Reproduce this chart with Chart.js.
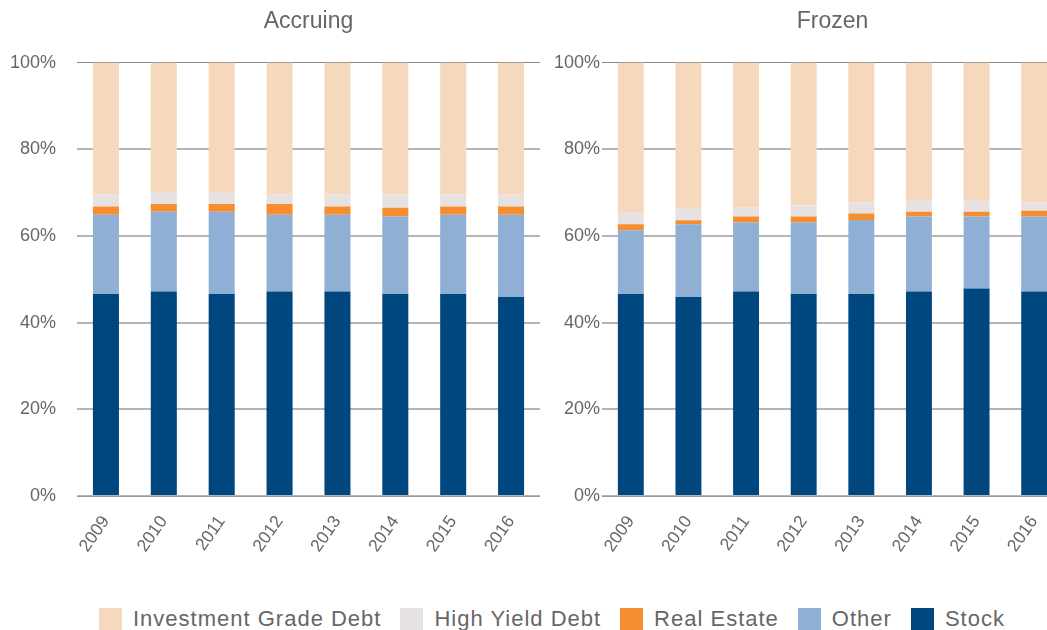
<!DOCTYPE html>
<html>
<head>
<meta charset="utf-8">
<script src="https://cdn.jsdelivr.net/npm/chart.js@4"></script>
<style>
  body { margin: 0; width: 1047px; height: 630px; overflow: hidden; position: relative; background: #fff; font-family: "Liberation Sans", Arial, sans-serif; }
  .panel { position: absolute; top: 0; height: 560px; }
  #legend { position: absolute; left: 99px; top: 606px; display: flex; align-items: center; color: #666; font-size: 22px; letter-spacing: 1px; }
  #legend .item { display: flex; align-items: center; margin-right: 19px; }
  #legend .box { width: 23px; height: 22px; margin-right: 11px; }
</style>
</head>
<body>
<div class="panel" style="left:0; width:540px;"><canvas id="accruingChart"></canvas></div>
<div class="panel" style="left:525px; width:538px;"><canvas id="frozenChart"></canvas></div>
<div id="legend"></div>
<script>
// categories
let years = ['2009', '2010', '2011', '2012', '2013', '2014', '2015', '2016'];
let yTicks = [0, 20, 40, 60, 80, 100];

// series, bottom of the stack first
let seriesNames = ['Stock', 'Other', 'Real Estate', 'High Yield Debt', 'Investment Grade Debt'];
let seriesColors = ['#00477f', '#8fafd5', '#f68d2e', '#e6e2e1', '#f6d8bc'];

// Accruing (% of assets)
let accruingStock = [46.6, 47.2, 46.6, 47.2, 47.2, 46.6, 46.6, 45.9];
let accruingOther = [18.3, 18.4, 19.0, 17.7, 17.7, 17.9, 18.3, 19.0];
let accruingRealEstate = [1.9, 1.8, 1.8, 2.5, 1.9, 2.0, 1.9, 1.9];
let accruingHighYield = [2.7, 2.7, 2.7, 2.1, 2.7, 3.0, 2.7, 2.7];
let accruingInvGrade = [30.5, 29.9, 29.9, 30.5, 30.5, 30.5, 30.5, 30.5];

// Frozen (% of assets)
let frozenStock = [46.6, 45.9, 47.2, 46.6, 46.6, 47.2, 47.9, 47.2];
let frozenOther = [14.7, 16.8, 15.9, 16.5, 17.1, 17.3, 16.6, 17.3];
let frozenRealEstate = [1.4, 0.9, 1.4, 1.4, 1.5, 1.1, 1.1, 1.3];
let frozenHighYield = [2.7, 2.7, 2.0, 2.5, 2.5, 2.5, 2.5, 1.9];
let frozenInvGrade = [34.6, 33.7, 33.5, 33.0, 32.3, 31.9, 31.9, 32.3];

Chart.defaults.font.family = '"Liberation Sans", Arial, sans-serif';
Chart.defaults.color = '#666';

function makeChart(canvasId, title, seriesData, yPadding) {
    let ctx = document.getElementById(canvasId).getContext('2d');
    return new Chart(ctx, {
        type: 'bar',
        data: {
            labels: years,
            datasets: seriesNames.map((name, i) => ({
                label: name,
                data: seriesData[i],
                backgroundColor: seriesColors[i],
                borderWidth: 0,
                categoryPercentage: 0.45,
                barPercentage: 1
            }))
        },
        options: {
            responsive: true,
            maintainAspectRatio: false,
            animation: false,
            layout: { padding: 0 },
            plugins: {
                legend: { display: false },
                tooltip: { enabled: false },
                title: {
                    display: true,
                    text: title,
                    fullSize: false,
                    font: { size: 23, weight: 'normal' },
                    padding: { top: 8, bottom: 27 }
                }
            },
            scales: {
                x: {
                    stacked: true,
                    grid: { display: false },
                    border: { color: '#999' },
                    ticks: { autoSkip: false, minRotation: 55, maxRotation: 55, padding: 8, font: { size: 17.5 } },
                    afterFit: s => { s.height = 64; }
                },
                y: {
                    stacked: true,
                    min: yTicks[0],
                    max: yTicks[yTicks.length - 1],
                    border: { display: false },
                    grid: {
                        drawTicks: false,
                        color: c => c.tick && c.tick.value === 100 ? '#888' : '#b5b5b5',
                        lineWidth: c => c.tick && c.tick.value === 100 ? 1 : 2
                    },
                    afterBuildTicks: s => { s.ticks = yTicks.map(v => ({ value: v })); },
                    ticks: { padding: yPadding, font: { size: 18 }, callback: v => v + '%' },
                    afterFit: s => { s.width = 77; }
                }
            }
        }
    });
}

makeChart('accruingChart', 'Accruing',
    [accruingStock, accruingOther, accruingRealEstate, accruingHighYield, accruingInvGrade], 21);
makeChart('frozenChart', 'Frozen',
    [frozenStock, frozenOther, frozenRealEstate, frozenHighYield, frozenInvGrade], 2);

// legend, top of the stack first
let legend = document.getElementById('legend');
for (let i = seriesNames.length - 1; i >= 0; i--) {
    let item = document.createElement('div');
    item.className = 'item';
    let box = document.createElement('div');
    box.className = 'box';
    box.style.background = seriesColors[i];
    let text = document.createElement('span');
    text.textContent = seriesNames[i];
    item.appendChild(box);
    item.appendChild(text);
    legend.appendChild(item);
}
</script>
</body>
</html>
